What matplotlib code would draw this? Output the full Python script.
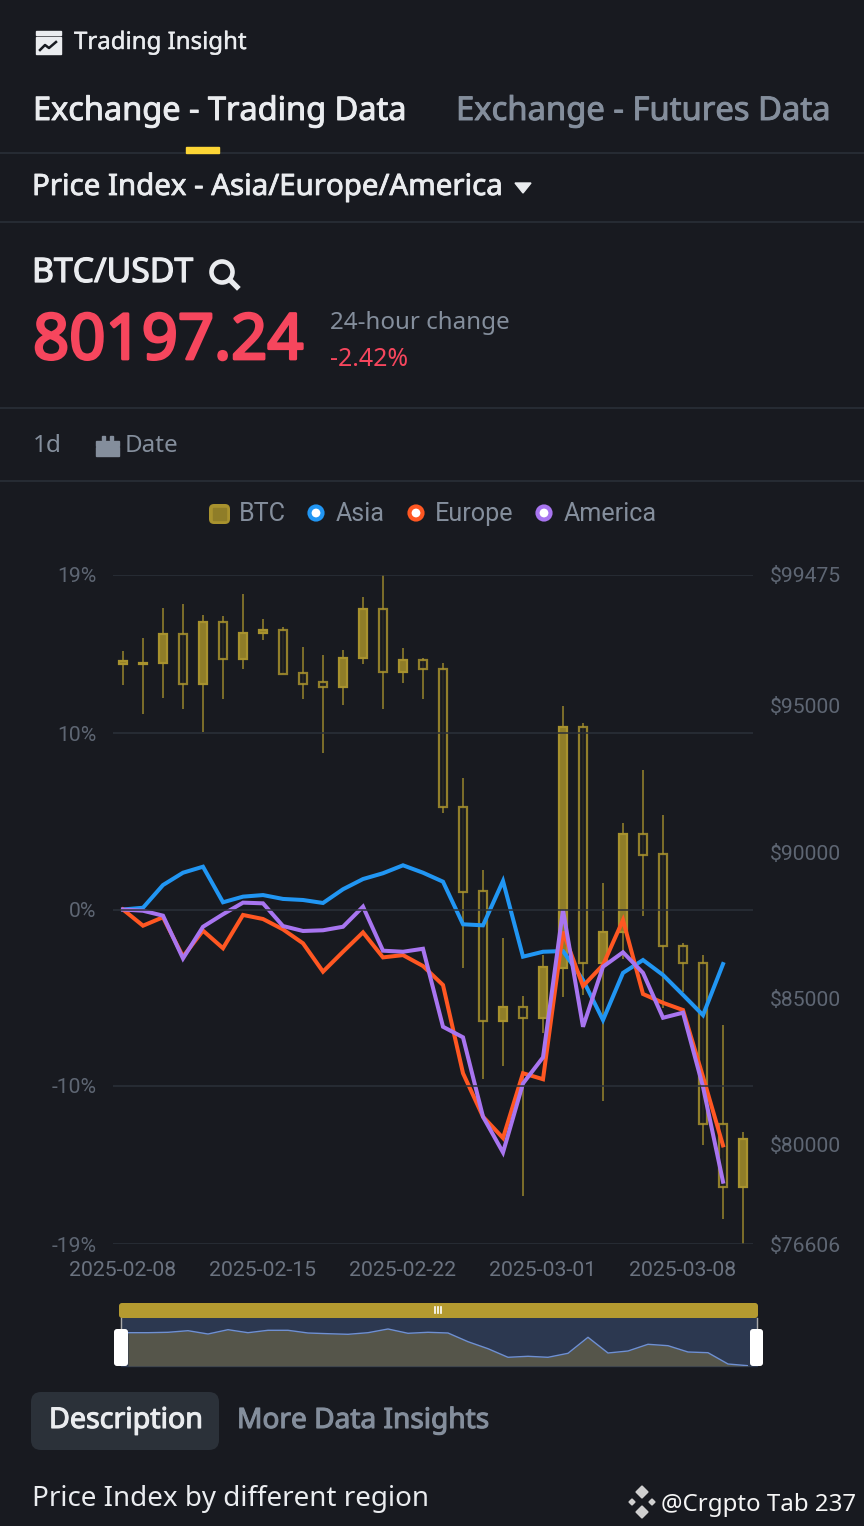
import matplotlib
# No display in the sandbox
matplotlib.use('Agg')
import matplotlib.pyplot as plt
import matplotlib.patheffects as pe
from matplotlib.patches import FancyBboxPatch, Polygon, Rectangle, Circle
from matplotlib.ticker import FuncFormatter

BG = '#181a20'
LINE = '#2b3139'
WHITE = '#eaecef'
GRAY = '#848e9c'
RED = '#f6465d'
GOLD = '#a8922e'
GOLD_FILL = '#8f7d28'
BLUE = '#2196f3'
ORANGE = '#ff5722'
PURPLE = '#a875f0'
UI_FONT = 'Noto Sans'
CHART_FONT = 'Roboto'

dates = ['2025-02-08', '2025-02-15', '2025-02-22', '2025-03-01', '2025-03-08']
date_idx = [0, 7, 14, 21, 28]

pct_ticks = [-19, -10, 0, 10, 19]
price_ticks = [76606, 80000, 85000, 90000, 95000, 99475]

opens = [96433, 96433, 96467, 97458, 95749, 97869, 96604, 97493, 97595, 96125, 95818, 95647,
	96638, 98313, 96160, 96570, 96262, 91545, 88674, 84231, 84709, 84333, 86042, 94280,
	86213, 87273, 90623, 89939, 86794, 86213, 80711, 78557]
closes = [96536, 96467, 97458, 95749, 97869, 96604, 97493, 97595, 96091, 95749, 95647, 96638,
	98313, 96160, 96570, 96262, 91545, 88640, 84231, 84709, 84333, 86077, 94280, 86213,
	87273, 90623, 89905, 86794, 86213, 80711, 78557, 80197]
highs = [96877, 97322, 98347, 98484, 98108, 98074, 98826, 97971, 97698, 97014, 96741, 96912,
	98723, 99475, 96980, 96638, 96467, 92537, 89392, 87068, 85085, 86487, 94997, 94416,
	88948, 90998, 92810, 91272, 86897, 86487, 84094, 80437]
lows = [95715, 94724, 95271, 94895, 94109, 95237, 96262, 97253, 96091, 95237, 93391, 95032,
	96433, 94895, 95784, 95237, 91340, 86042, 82248, 82692, 78249, 83820, 85051, 85119,
	81497, 86350, 87820, 84675, 85222, 79993, 77463, 76606]

asia = [0.0, 0.1, 1.39, 2.09, 2.43, 0.41, 0.73, 0.82, 0.6, 0.54, 0.37, 1.15, 1.73, 2.06, 2.51, 2.09,
	1.58, -0.84, -0.9, 1.62, -2.68, -2.4, -2.36, -4.0, -6.28, -3.6, -2.87, -3.72, -4.85, -6.0, -3.1]
europe = [0.0, -0.92, -0.44, -2.68, -1.2, -2.2, -0.31, -0.54, -1.13, -1.92, -3.53, -2.4, -1.3, -2.72,
	-2.59, -3.21, -4.29, -9.3, -11.77, -12.98, -9.3, -9.64, -1.26, -4.35, -3.15, -0.6, -4.8, -5.3,
	-5.71, -9.5, -13.4]
america = [0.0, -0.07, -0.35, -2.78, -0.98, -0.27, 0.39, 0.35, -0.94, -1.22, -1.18, -0.98, 0.16, -2.34,
	-2.4, -2.23, -6.66, -7.26, -11.77, -13.8, -9.88, -8.4, -0.03, -6.66, -3.25, -2.43, -3.6, -6.15,
	-5.86, -10.07, -15.46]

# Overview strip under the chart, height of the shaded area
overview = [33.3, 33.3, 33.7, 35.3, 32, 36.3, 33.3, 35.7, 35.7, 33, 32.3, 31.7, 33.3, 37, 32.7, 33.7,
	33, 24.3, 17.3, 8.7, 9.7, 8.7, 12.7, 28.7, 13, 15, 21.7, 20.3, 14, 13.3, 2, 0.3]

W, H = 864, 1526


def px_axes(left, top, right, bottom):
	'''Axes placed by reference pixels.'''
	return fig.add_axes([left / W, 1 - bottom / H, (right - left) / W, (bottom - top) / H])


def label(x, y, s, size, color=WHITE, stroke=0, family=UI_FONT, ha='left'):
	# Noto Sans only comes in one weight here, a stroke fakes the heavier text
	t = ui.text(x, y, s, fontsize=size, color=color, family=family, ha=ha, va='baseline')
	if stroke:
		t.set_path_effects([pe.withStroke(linewidth=stroke, foreground=color)])


def round_box(x0, y0, x1, y1, r, color, ec='none', zorder=3):
	ui.add_patch(FancyBboxPatch((x0 + r, y0 + r), x1 - x0 - 2 * r, y1 - y0 - 2 * r,
		boxstyle='round,pad={},rounding_size={}'.format(r, r), fc=color, ec=ec, lw=0, zorder=zorder))


def draw_header():
	# Trading Insight icon
	ui.add_patch(Rectangle((36, 31), 25, 4, color=WHITE))
	ui.add_patch(Rectangle((36, 37), 25, 17, color=WHITE))
	ui.plot([40, 45, 49, 56], [50, 45, 48, 42], color=BG, lw=1.8)
	label(74, 49, 'Trading Insight', 17.3, stroke=0.3)
	label(33, 120, 'Exchange - Trading Data', 23.4, stroke=0.7)
	label(456, 120, 'Exchange - Futures Data', 23.6, color=GRAY, stroke=0.7)
	ui.add_patch(Rectangle((186, 147), 33, 6, color='#fcd535', zorder=3))
	label(32, 195, 'Price Index - Asia/Europe/America', 21.2, stroke=0.6)
	ui.add_patch(Polygon([(515, 183), (531, 183), (523, 193)], color=WHITE))
	for y in [153, 222, 408, 481]:
		ui.plot([0, W], [y, y], color=LINE, lw=1.1)

	label(32, 282, 'BTC/USDT', 24.3, stroke=0.9)
	ui.add_patch(Circle((222, 272), 10.5, fc='none', ec=WHITE, lw=3.3))
	ui.plot([230, 237], [280, 287], color=WHITE, lw=3.8)
	label(33, 359, '80197.24', 45.6, color=RED, stroke=2)
	label(330, 329, '24-hour change', 17.4, color=GRAY)
	label(330, 366, '-2.42%', 17.9, color=RED)

	label(33, 452, '1d', 17.6, color=GRAY)
	ui.add_patch(Rectangle((96, 441), 23, 4.5, color=GRAY))
	ui.add_patch(Rectangle((96, 447), 23, 9, color=GRAY))
	ui.add_patch(Rectangle((102, 436), 3, 4, color=GRAY))
	ui.add_patch(Rectangle((110, 436), 3, 4, color=GRAY))
	label(125, 452, 'Date', 17.4, color=GRAY)


def draw_legend():
	round_box(209, 504, 230, 524, 5, GOLD)
	ui.add_patch(Rectangle((213, 508), 13, 12, color=GOLD_FILL, zorder=4))
	label(239, 521, 'BTC', 18.1, color=GRAY, family=CHART_FONT)
	for cx, tx, name, col in [(316, 336, 'Asia', BLUE), (416, 435, 'Europe', ORANGE), (544, 564, 'America', PURPLE)]:
		ui.add_patch(Circle((cx, 513), 6.5, fc='white', ec=col, lw=3))
		label(tx, 521, name, 18.1, color=GRAY, family=CHART_FONT)


def draw_chart():
	ax = px_axes(113, 575, 753, 1244)
	ax.set_xlim(-0.5, 31.5)
	ax.set_ylim(-19, 19)
	ax.patch.set_visible(False)
	price = ax.twinx()
	price.set_ylim(76606, 99475)
	ax.set_zorder(3)
	price.set_zorder(2)

	for i in range(len(opens)):
		up = closes[i] >= opens[i]
		price.vlines(i, lows[i], highs[i], color=GOLD, lw=1.3, alpha=0.75, clip_on=False)
		bottom = min(opens[i], closes[i])
		height = abs(closes[i] - opens[i])
		price.bar(i, height, 0.42, bottom=bottom, facecolor=GOLD_FILL if up else BG,
			edgecolor=GOLD, linewidth=1.6, alpha=1 if up else 0.85, zorder=3)

	days = list(range(len(asia)))
	ax.plot(days, asia, color=BLUE, lw=2.9, solid_joinstyle='miter')
	ax.plot(days, europe, color=ORANGE, lw=2.9, solid_joinstyle='miter')
	ax.plot(days, america, color=PURPLE, lw=2.9, solid_joinstyle='miter')

	ax.set_yticks(pct_ticks)
	ax.yaxis.set_major_formatter(FuncFormatter(lambda v, _: '{:d}%'.format(int(v))))
	ax.set_xticks(date_idx)
	ax.set_xticklabels(dates)
	ax.grid(axis='y', color=LINE, lw=1.1)
	ax.set_axisbelow(False)
	ax.tick_params(axis='y', length=0, pad=12, labelsize=15.2, labelcolor='#5e6673')
	ax.tick_params(axis='x', length=0, pad=12, labelsize=15.3, labelcolor='#6b7380')
	price.set_yticks(price_ticks)
	price.set_yticklabels(['${}'.format(p) for p in price_ticks])
	price.tick_params(axis='y', length=0, pad=12, labelsize=15.2, labelcolor='#5e6673')
	for a in (ax, price):
		for s in a.spines.values():
			s.set_visible(False)
		for t in a.get_xticklabels() + a.get_yticklabels():
			t.set_family(CHART_FONT)


def draw_overview():
	# Window behind the strip
	ui.add_patch(Rectangle((121, 1318), 636, 48, color='#2c3850', zorder=1))
	strip = px_axes(128, 1318, 748, 1366)
	strip.set_xlim(0, 31)
	strip.set_ylim(0, 48)
	strip.axis('off')
	days = list(range(len(overview)))
	strip.fill_between(days, overview, 0, color='#55554a', lw=0)
	strip.plot(days, overview, color='#6f90d2', lw=1)

	round_box(119, 1303, 758, 1318, 3, '#b49a30', zorder=4)
	for x in [435, 438, 441]:
		ui.plot([x, x], [1307, 1313], color='white', lw=1.2, zorder=5)
	for x0, x1 in [(114, 128), (750, 763)]:
		ui.plot([(x0 + x1) / 2] * 2, [1318, 1330], color='#aaaaaa', lw=1, zorder=4)
		round_box(x0, 1329, x1, 1366, 3, 'white', zorder=6)


def draw_footer():
	round_box(31, 1392, 219, 1450, 10, LINE)
	label(49, 1428, 'Description', 20.6, stroke=0.8)
	label(237, 1428, 'More Data Insights', 20.2, color=GRAY, stroke=0.8)
	label(32, 1506, 'Price Index by different region', 20)
	# Watermark
	for cx, cy, r in [(642, 1492, 6), (642, 1512, 6), (632, 1502, 3), (652, 1502, 3)]:
		ui.add_patch(Polygon([(cx - r, cy), (cx, cy - r), (cx + r, cy), (cx, cy + r)], color='#cfcfcf', zorder=4))
	label(661, 1511, '@Crgpto Tab 237', 17.3, color='#f5f5f5')


fig = plt.figure(figsize=(W / 100, H / 100), dpi=100, facecolor=BG)
ui = fig.add_axes([0, 0, 1, 1])
ui.set_xlim(0, W)
ui.set_ylim(H, 0)
ui.axis('off')

draw_header()
draw_legend()
draw_chart()
draw_overview()
draw_footer()

fig.savefig('out.png', dpi=100, facecolor=BG)
